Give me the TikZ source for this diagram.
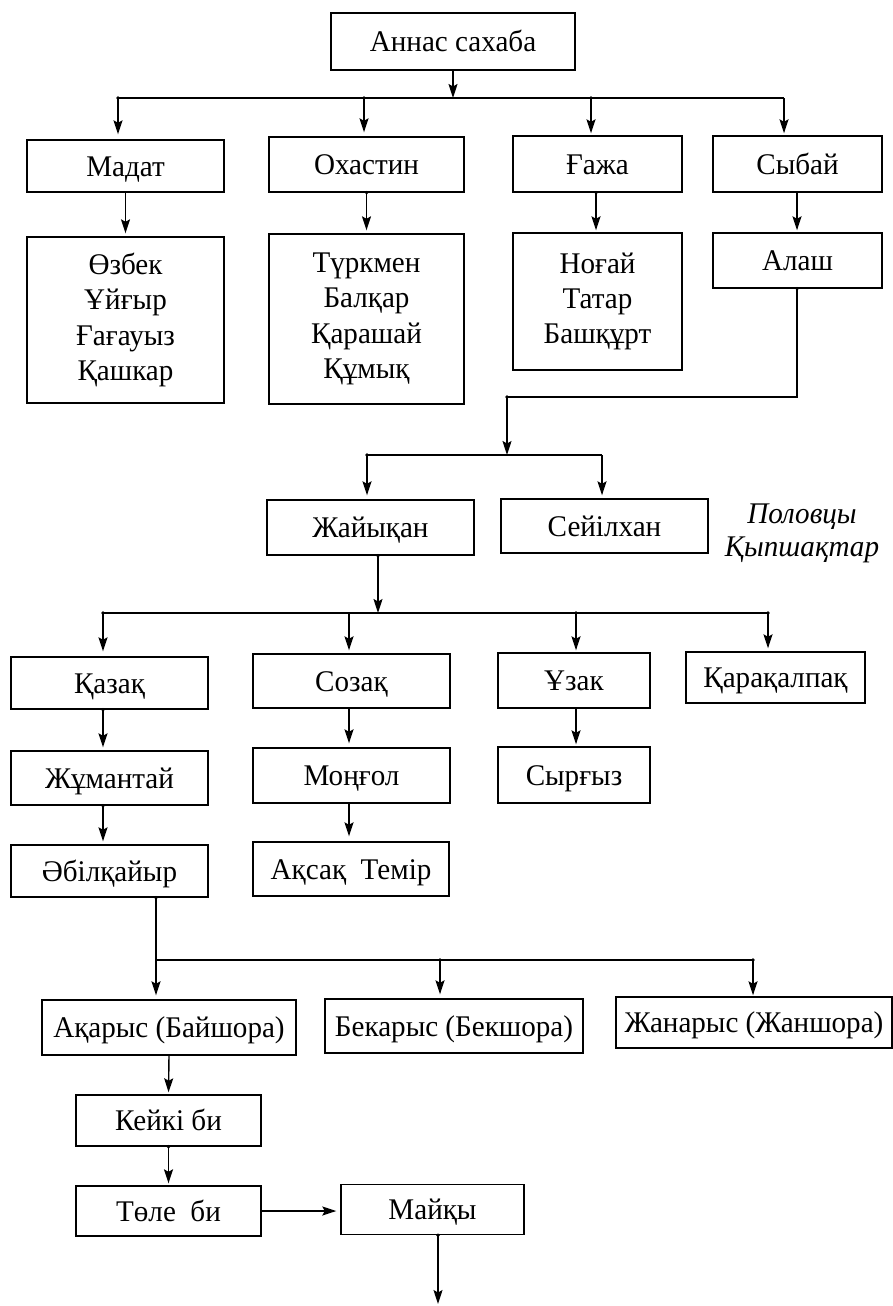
\documentclass[tikz,border=0pt]{standalone}
\usepackage{fontspec}
\setmainfont{Liberation Serif}[FakeStretch=0.97]
\usetikzlibrary{arrows.meta}
\begin{document}
\begin{tikzpicture}[x=1pt,y=-1pt,
  bx/.style={draw, line width=1.4pt, inner sep=0pt, align=center, font=\fontsize{30}{35.3}\selectfont},
  sbx/.style={bx, text height=20pt, text depth=0pt},
  ln/.style={line width=1.4pt},
  arr/.style={line width=1.4pt, -{Stealth[length=14pt,width=9pt,inset=2.5pt]}},
  jdot/.style={fill, circle, inner sep=0pt, minimum size=3.6pt},
  lbl/.style={align=center, inner sep=0pt, font=\itshape\fontsize{30}{33}\selectfont}]
\useasboundingbox (0,0) rectangle (893,1306);
% boxes
\node[sbx, minimum width=244pt, minimum height=57pt] (top) at (453,41.5) {Аннас сахаба};
\node[sbx, minimum width=197pt, minimum height=52pt] (madat) at (125.5,166) {Мадат};
\node[sbx, minimum width=195pt, minimum height=55pt] (okh) at (366.5,164.5) {Охастин};
\node[sbx, minimum width=169pt, minimum height=56pt] (gazha) at (597.5,164) {Ғажа};
\node[sbx, minimum width=169pt, minimum height=56pt] (sybai) at (797.5,164) {Сыбай};
\node[bx, minimum width=197pt, minimum height=166pt] (ozbek) at (125.5,320) {Өзбек\\Ұйғыр\\Ғағауыз\\Қашкар};
\node[bx, minimum width=195pt, minimum height=170pt] (turkmen) at (366.5,319) {Түркмен\\Балқар\\Қарашай\\Құмық};
\node[bx, minimum width=169pt, minimum height=137pt] (nogai) at (597.5,301.5) {Ноғай\\Татар\\Башқұрт};
\node[sbx, minimum width=169pt, minimum height=55pt] (alash) at (797.5,260.5) {Алаш};
\node[sbx, minimum width=207pt, minimum height=55pt] (zhaiyk) at (370.5,527.5) {Жайықан};
\node[sbx, minimum width=207pt, minimum height=54pt] (seil) at (604.5,526) {Сейілхан};
\node[lbl] (polov) at (802,533.5) {Половцы\\Қыпшақтар};
\node[sbx, minimum width=197pt, minimum height=52pt] (kazak) at (109.5,683) {Қазақ};
\node[sbx, minimum width=197pt, minimum height=54pt] (sozak) at (351.5,681) {Созақ};
\node[sbx, minimum width=152pt, minimum height=55pt] (uzak) at (574,680.5) {Ұзак};
\node[sbx, minimum width=179pt, minimum height=51pt] (karakalpak) at (775.5,677.5) {Қарақалпақ};
\node[sbx, minimum width=197pt, minimum height=54pt] (zhumantai) at (109.5,778) {Жұмантай};
\node[sbx, minimum width=197pt, minimum height=55pt] (mongol) at (351.5,775.5) {Моңғол};
\node[sbx, minimum width=152pt, minimum height=56pt] (syrgyz) at (574,775) {Сырғыз};
\node[sbx, minimum width=197pt, minimum height=52pt] (abil) at (109.5,871) {Әбілқайыр};
\node[sbx, minimum width=196pt, minimum height=54pt] (aksak) at (351,869) {Ақсақ~ Темір};
\node[sbx, minimum width=254pt, minimum height=55pt] (akarys) at (169,1027.5) {Ақарыс (Байшора)};
\node[sbx, minimum width=258pt, minimum height=54pt] (bekarys) at (454,1026) {Бекарыс (Бекшора)};
\node[sbx, minimum width=276pt, minimum height=51pt] (zhanarys) at (754,1022.5) {Жанарыс (Жаншора)};
\node[sbx, minimum width=185pt, minimum height=51pt] (keiki) at (168.5,1120.5) {Кейкі би};
\node[sbx, minimum width=185pt, minimum height=50pt] (tole) at (168.5,1211) {Төле~ би};
\node[sbx, minimum width=183pt, minimum height=50pt] (maiky) at (432.5,1209.5) {Майқы};
% junction coordinates
\coordinate (b1) at (453,98);
\coordinate (b1a) at (118,98);
\coordinate (b1b) at (364,98);
\coordinate (b1c) at (591,98);
\coordinate (b1d) at (784,98);
\coordinate (c1) at (797,397);
\coordinate (c2) at (507,397);
\coordinate (b2) at (507,455);
\coordinate (b2a) at (367,455);
\coordinate (b2b) at (602,455);
\coordinate (b3) at (378,613);
\coordinate (b3a) at (103,613);
\coordinate (b3b) at (349,613);
\coordinate (b3c) at (576,613);
\coordinate (b3d) at (768,613);
\coordinate (b4a) at (156,960);
\coordinate (b4b) at (440,960);
\coordinate (b4c) at (753,960);
\coordinate (endm) at (438,1304);
% connectors
\draw[arr] (top.south -| b1) -- (b1);
\draw[ln] (b1a) -- (b1d);
\draw[arr, shorten >=5pt] (b1a) -- (b1a |- madat.north);
\draw[arr, shorten >=4pt] (b1b) -- (b1b |- okh.north);
\draw[arr, shorten >=2pt] (b1c) -- (b1c |- gazha.north);
\draw[arr, shorten >=2pt] (b1d) -- (b1d |- sybai.north);
\draw[arr, shorten >=3pt] (madat.south) -- (ozbek.north);
\draw[arr, shorten >=3pt] (okh.south) -- (turkmen.north);
\draw[arr, shorten >=2pt] (gazha.south -| 596,0) -- (nogai.north -| 596,0);
\draw[arr, shorten >=2pt] (sybai.south -| c1) -- (alash.north -| c1);
\draw[ln] (alash.south -| c1) -- (c1) -- (c2);
\draw[arr] (c2) -- (b2);
\draw[ln] (b2a) -- (b2b);
\draw[arr, shorten >=4pt] (b2a) -- (b2a |- zhaiyk.north);
\draw[arr, shorten >=3pt] (b2b) -- (b2b |- seil.north);
\draw[arr] (zhaiyk.south -| b3) -- (b3);
\draw[ln] (b3a) -- (b3d);
\draw[arr, shorten >=5pt] (b3a) -- (b3a |- kazak.north);
\draw[arr, shorten >=3pt] (b3b) -- (b3b |- sozak.north);
\draw[arr, shorten >=2pt] (b3c) -- (b3c |- uzak.north);
\draw[arr, shorten >=3pt] (b3d) -- (b3d |- karakalpak.north);
\draw[arr, shorten >=3pt] (kazak.south -| b3a) -- (zhumantai.north -| b3a);
\draw[arr, shorten >=4pt] (sozak.south -| b3b) -- (mongol.north -| b3b);
\draw[arr, shorten >=2pt] (uzak.south -| b3c) -- (syrgyz.north -| b3c);
\draw[arr, shorten >=3pt] (zhumantai.south -| b3a) -- (abil.north -| b3a);
\draw[arr, shorten >=5pt] (mongol.south -| b3b) -- (aksak.north -| b3b);
\draw[arr, shorten >=4pt] (abil.south -| b4a) -- (akarys.north -| b4a);
\draw[ln] (b4a) -- (b4c);
\draw[arr, shorten >=4pt] (b4b) -- (b4b |- bekarys.north);
\draw[arr, shorten >=1pt] (b4c) -- (b4c |- zhanarys.north);
\draw[arr, shorten >=2pt] (akarys.south) -- (keiki.north);
\draw[arr, shorten >=2pt] (keiki.south) -- (tole.north);
\draw[arr, shorten >=4pt] (tole.east) -- (maiky.west |- tole.east);
\draw[arr] (maiky.south -| endm) -- (endm);
% small junction dots
\foreach \p in {b1a,b1b,b1c,c2,b2a,b3a,b3c,b3d,b4b,b4c}
  \node[jdot] at (\p) {};
\node[jdot] at (okh.south) {};
\node[jdot] at (gazha.south -| 596,0) {};
\node[jdot] at (alash.south -| c1) {};
\node[jdot] at (zhaiyk.south -| b3) {};
\node[jdot] at (kazak.south -| b3a) {};
\node[jdot] at (zhumantai.south -| b3a) {};
\node[jdot] at (abil.south -| b4a) {};
\node[jdot] at (keiki.south) {};
\node[jdot] at (maiky.south -| endm) {};
\end{tikzpicture}
\end{document}
